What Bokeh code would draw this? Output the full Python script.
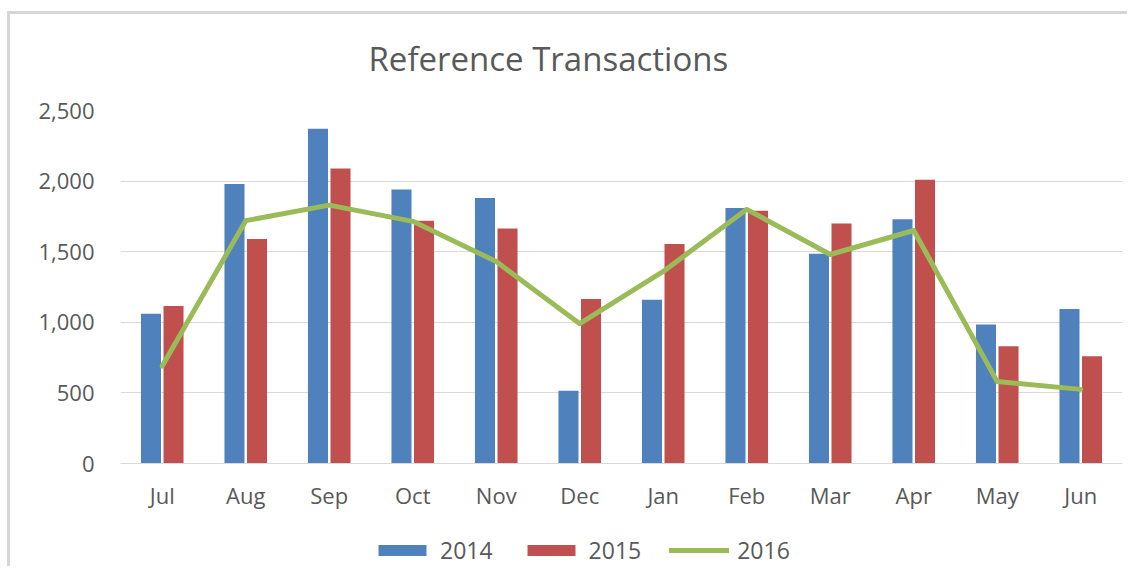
from bokeh.plotting import figure
from bokeh.layouts import column
from bokeh.models import (Legend, LegendItem, NumeralTickFormatter, FixedTicker,
                          ColumnDataSource, Range1d)
from bokeh.transform import dodge
from bokeh.embed import file_html
from bokeh.resources import INLINE

months = ["Jul", "Aug", "Sep", "Oct", "Nov", "Dec", "Jan", "Feb", "Mar", "Apr", "May", "Jun"]
v2014 = [1060, 1980, 2370, 1940, 1880, 515, 1160, 1810, 1485, 1730, 985, 1095]
v2015 = [1115, 1590, 2090, 1720, 1665, 1165, 1555, 1790, 1700, 2010, 830, 760]
v2016 = [690, 1720, 1830, 1715, 1430, 990, 1360, 1800, 1480, 1650, 580, 525]
y_ticks = [0, 500, 1000, 1500, 2000, 2500]
title_text = "Reference Transactions"

FONT = "Open Sans"
TXT = "#595959"
GRID = "#d9d9d9"
C14, C15, C16 = "#4F81BD", "#C0504D", "#9BBB59"

src = ColumnDataSource(dict(month=months, y14=v2014, y15=v2015, y16=v2016))

# ---- main chart ----
p = figure(x_range=months, y_range=(0, 2500), width=1127, height=512,
           output_backend="svg", toolbar_location=None,
           min_border_left=120, min_border_right=5, min_border_top=110, min_border_bottom=48)
p.x_range.range_padding = 0
p.outline_line_color = None
p.background_fill_color = "white"
p.border_fill_alpha = 0

p.vbar(x=dodge("month", -0.135, range=p.x_range), top="y14", width=0.24, source=src,
       fill_color=C14, line_color=None)
p.vbar(x=dodge("month", 0.135, range=p.x_range), top="y15", width=0.24, source=src,
       fill_color=C15, line_color=None)
p.line(x="month", y="y16", source=src, line_color=C16, line_width=5,
       line_join="round", line_cap="round")

p.title.text = title_text
p.title.text_font = FONT
p.title.text_font_size = "33px"
p.title.text_font_style = "normal"
p.title.text_color = TXT
p.title.align = "left"
p.title.offset = 248
p.title.standoff = 60

p.xgrid.grid_line_color = None
p.ygrid.grid_line_color = GRID
p.ygrid.grid_line_width = 1

p.yaxis.ticker = FixedTicker(ticks=y_ticks)
p.yaxis.formatter = NumeralTickFormatter(format="0,0")
p.yaxis.axis_line_color = None
p.yaxis.major_tick_line_color = None
p.yaxis.minor_tick_line_color = None
p.yaxis.major_label_standoff = 20
p.yaxis.major_label_text_font = FONT
p.yaxis.major_label_text_font_size = "22px"
p.yaxis.major_label_text_color = TXT

p.xaxis.axis_line_color = GRID
p.xaxis.major_tick_line_color = None
p.xaxis.minor_tick_line_color = None
p.xaxis.major_label_standoff = 10
p.xaxis.major_label_text_font = FONT
p.xaxis.major_label_text_font_size = "22px"
p.xaxis.major_label_text_color = TXT

# ---- legend strip: its series lie below the visible y range, only legend samples show ----
q = figure(x_range=months, y_range=Range1d(5000, 6000), width=1127, height=54,
           output_backend="svg", toolbar_location=None,
           min_border=0, min_border_left=0, min_border_right=0,
           min_border_top=0, min_border_bottom=0)
q.axis.visible = False
q.grid.visible = False
q.outline_line_color = None
q.background_fill_alpha = 0
q.border_fill_alpha = 0
r14 = q.vbar(x="month", top="y14", width=0.24, source=src, fill_color=C14, line_color=None)
r15 = q.vbar(x="month", top="y15", width=0.24, source=src, fill_color=C15, line_color=None)
r16 = q.line(x="month", y="y16", source=src, line_color=C16, line_width=5, line_cap="round")

legend = Legend(items=[LegendItem(label="2014", renderers=[r14]),
                       LegendItem(label="2015", renderers=[r15]),
                       LegendItem(label="2016", renderers=[r16])],
                orientation="horizontal", location=(252, 0),
                border_line_color=None, background_fill_alpha=0,
                padding=0, margin=0, spacing=28, label_standoff=8,
                glyph_width=60, glyph_height=14,
                label_text_font=FONT, label_text_font_size="23px", label_text_color=TXT)
q.add_layout(legend, "center")

root = column(p, q, spacing=0)
root.styles = {"background": "linear-gradient(#d6d6d6,#d6d6d6) 7px 11px / 3px 100% no-repeat, "
                             "linear-gradient(#d6d6d6,#d6d6d6) 7px 11px / 100% 3px no-repeat, #ffffff"}

open("out.html", "w").write(file_html(root, INLINE))
